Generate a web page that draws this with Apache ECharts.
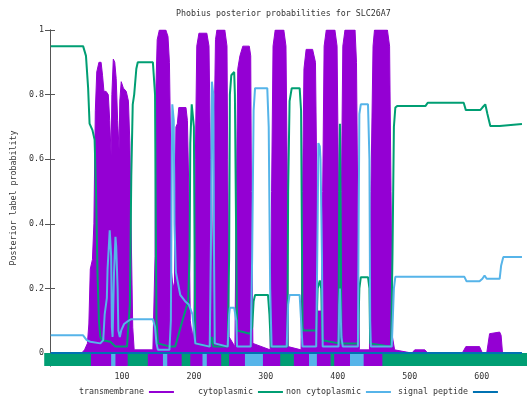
<!DOCTYPE html>
<html>
<head>
<meta charset="utf-8">
<script src="https://cdn.jsdelivr.net/npm/echarts@6/dist/echarts.min.js"></script>
<style>
  html, body { margin: 0; padding: 0; background: #ffffff; }
  #chart { width: 527px; height: 399px; }
</style>
</head>
<body>
<div id="chart"></div>
<script>
// Phobius posterior label probabilities along the SLC26A7 sequence (residue, probability)
const xTicks = [100, 200, 300, 400, 500, 600];
const yTicks = [0, 0.2, 0.4, 0.6, 0.8, 1];

const tmPos  = [1, 44, 48, 52, 54, 56, 59, 61, 63, 65, 68, 71, 73, 75, 78, 81, 83, 85, 86, 88, 90, 92, 94, 96, 97, 99, 102, 106, 109, 111, 113, 115, 117,
                143, 146, 147, 149, 152, 161, 164, 166, 168, 169, 171, 173, 174, 175, 177, 179, 189, 191, 193, 195, 198,
                200, 202, 204, 207, 218, 221, 223, 225, 226, 227, 230, 232, 243, 246, 247, 249, 257, 259, 261, 264, 268, 277, 279, 280, 282,
                306, 308, 310, 313, 325, 328, 330, 331, 349, 351, 353, 356, 365, 369, 371, 372, 377, 379, 381, 384, 396, 399,
                401, 402, 403, 405, 407, 410, 424, 426, 428, 430, 444, 446, 449, 451, 469, 472, 474, 476, 479,
                503, 507, 521, 525, 573, 578, 597, 601, 607, 611, 625, 627, 629, 656];
const tmProb = [0, 0, 0.01, 0.03, 0.09, 0.26, 0.29, 0.40, 0.75, 0.87, 0.90, 0.90, 0.86, 0.81, 0.81, 0.80, 0.72, 0.61, 0.80, 0.91, 0.90, 0.85, 0.72, 0.63, 0.78, 0.84, 0.82, 0.81, 0.78, 0.65, 0.35, 0.08, 0.01,
                0.01, 0.30, 0.80, 0.97, 1.0, 1.0, 0.98, 0.90, 0.60, 0.25, 0.20, 0.22, 0.50, 0.70, 0.71, 0.76, 0.76, 0.72, 0.50, 0.10, 0.05,
                0.10, 0.60, 0.95, 0.99, 0.99, 0.95, 0.60, 0.12, 0.12, 0.50, 0.97, 1.0, 1.0, 0.95, 0.60, 0.05, 0.02, 0.50, 0.88, 0.92, 0.95, 0.95, 0.92, 0.50, 0.03,
                0.01, 0.50, 0.95, 1.0, 1.0, 0.95, 0.50, 0.02, 0.01, 0.50, 0.88, 0.94, 0.94, 0.90, 0.50, 0.13, 0.13, 0.50, 0.95, 1.0, 1.0, 0.95,
                0.50, 0.08, 0.08, 0.50, 0.95, 1.0, 1.0, 0.90, 0.40, 0.01, 0.01, 0.50, 0.95, 1.0, 1.0, 0.95, 0.50, 0.05, 0.01,
                0, 0.01, 0.01, 0, 0, 0.02, 0.02, 0, 0, 0.06, 0.065, 0.055, 0, 0];

const cytoPos  = [1, 46, 50, 53, 55, 59, 62, 64, 66, 68, 70, 73, 84, 91, 107, 111, 113, 115, 117, 120, 122, 143, 146, 147, 148, 150,
                  167, 174, 184, 192, 194, 195, 197, 198, 200, 201, 202, 222, 225, 227, 247, 249, 250, 252, 256, 257, 259, 260,
                  278, 281, 283, 285, 303, 305, 307, 330, 331, 333, 336, 347, 349, 350, 351, 352, 370, 372, 375, 377, 379,
                  401, 402, 403, 404, 405, 428, 430, 432, 442, 444, 445, 474, 476, 478, 480, 483,
                  522, 525, 575, 578, 598, 601, 605, 608, 612, 625, 627, 656];
const cytoProb = [0.95, 0.95, 0.92, 0.82, 0.71, 0.69, 0.66, 0.50, 0.25, 0.10, 0.05, 0.04, 0.035, 0.02, 0.02, 0.15, 0.55, 0.77, 0.80, 0.88, 0.90, 0.90, 0.80, 0.40, 0.10, 0.03,
                  0.02, 0.02, 0.10, 0.16, 0.30, 0.65, 0.77, 0.77, 0.70, 0.30, 0.03, 0.02, 0.05, 0.02, 0.02, 0.30, 0.80, 0.86, 0.87, 0.80, 0.30, 0.07,
                  0.06, 0.08, 0.16, 0.18, 0.18, 0.12, 0.02, 0.02, 0.50, 0.78, 0.82, 0.82, 0.75, 0.40, 0.08, 0.07, 0.07, 0.20, 0.225, 0.20, 0.04,
                  0.03, 0.50, 0.71, 0.45, 0.03, 0.03, 0.20, 0.235, 0.235, 0.20, 0.03, 0.02, 0.30, 0.70, 0.76, 0.765,
                  0.765, 0.775, 0.775, 0.752, 0.752, 0.76, 0.77, 0.74, 0.703, 0.703, 0.709, 0.709];

const noncytoPos  = [1, 46, 51, 56, 70, 74, 76, 79, 80, 82, 83, 85, 86, 87, 89, 91, 92, 94, 95, 97, 99, 103, 109, 113, 143, 146, 148, 150,
                     166, 168, 169, 170, 172, 173, 175, 181, 188, 193, 198, 202, 222, 224, 225, 227, 228, 229, 247, 249, 250, 256, 259, 260,
                     279, 281, 283, 285, 302, 304, 306, 308, 329, 331, 333, 347, 349, 351, 370, 372, 373, 375, 376, 378, 379,
                     401, 402, 403, 405, 407, 428, 429, 430, 432, 442, 444, 445, 446, 475, 478, 480,
                     576, 579, 597, 601, 604, 607, 625, 627, 630, 656];
const noncytoProb = [0.055, 0.055, 0.04, 0.035, 0.03, 0.04, 0.12, 0.17, 0.26, 0.34, 0.38, 0.30, 0.08, 0.05, 0.25, 0.36, 0.33, 0.20, 0.07, 0.05, 0.07, 0.09, 0.10, 0.105, 0.105, 0.08, 0.03, 0.01,
                     0.01, 0.10, 0.50, 0.77, 0.72, 0.40, 0.25, 0.18, 0.16, 0.15, 0.12, 0.03, 0.02, 0.40, 0.84, 0.80, 0.30, 0.03, 0.02, 0.12, 0.14, 0.14, 0.10, 0.02,
                     0.02, 0.30, 0.75, 0.82, 0.82, 0.70, 0.20, 0.02, 0.02, 0.15, 0.18, 0.18, 0.10, 0.02, 0.02, 0.40, 0.65, 0.64, 0.60, 0.30, 0.02,
                     0.02, 0.15, 0.20, 0.05, 0.02, 0.02, 0.40, 0.74, 0.77, 0.77, 0.60, 0.10, 0.02, 0.02, 0.20, 0.236,
                     0.236, 0.222, 0.222, 0.23, 0.24, 0.23, 0.23, 0.27, 0.297, 0.297];

const signalPos  = [1, 656];
const signalProb = [0, 0];

// Predicted topology: segment boundaries (residues) and label of each segment
const segStart = [1, 66, 94, 100, 117, 145, 166, 172, 192, 204, 221, 227, 247, 258, 280, 305, 329, 348, 369, 380, 399, 404, 426, 445, 471];
const segEnd   = [66, 94, 100, 117, 145, 166, 172, 192, 204, 221, 227, 247, 258, 280, 305, 329, 348, 369, 380, 399, 404, 426, 445, 471, 656];
const segLabel = ['cytoplasmic', 'transmembrane', 'non cytoplasmic', 'transmembrane', 'cytoplasmic', 'transmembrane', 'non cytoplasmic',
                  'transmembrane', 'cytoplasmic', 'transmembrane', 'non cytoplasmic', 'transmembrane', 'cytoplasmic', 'transmembrane',
                  'non cytoplasmic', 'transmembrane', 'cytoplasmic', 'transmembrane', 'non cytoplasmic', 'transmembrane', 'cytoplasmic',
                  'transmembrane', 'non cytoplasmic', 'transmembrane', 'cytoplasmic'];
const stripLevel = -0.02;

const COLORS = {
  'transmembrane': '#9400d3',
  'cytoplasmic': '#009e73',
  'non cytoplasmic': '#56b4e9',
  'signal peptide': '#0072b2'
};
const FONT = 'DejaVu Sans Mono';
const FS = 8.3;
const TXT = '#333333';
const AXC = '#555555';

const pairs = (pos, val) => pos.map((p, i) => [p, val[i]]);

const stripData = segStart.map((s, i) => ({
  coords: [[s, stripLevel], [segEnd[i], stripLevel]],
  lineStyle: { color: COLORS[segLabel[i]] }
}));

const chart = echarts.init(document.getElementById('chart'), null, { renderer: 'canvas' });

const legendAt = (name, left) => ({
  data: [name], left: left, top: 388, padding: 0, align: 'right',
  icon: 'rect', itemWidth: 25, itemHeight: 2,
  textStyle: { fontFamily: FONT, fontSize: FS, color: TXT },
  selectedMode: false
});

chart.setOption({
  animation: false,
  backgroundColor: '#ffffff',
  title: {
    text: 'Phobius posterior probabilities for SLC26A7',
    left: 176, top: 10, padding: 0,
    textStyle: { fontFamily: FONT, fontSize: FS, fontWeight: 'normal', color: TXT }
  },
  legend: [
    legendAt('transmembrane', 79),
    legendAt('cytoplasmic', 198),
    legendAt('non cytoplasmic', 286),
    legendAt('signal peptide', 398)
  ],
  grid: { left: 50, right: -1, top: 30, bottom: 33 },
  xAxis: [
    {
      type: 'value', position: 'bottom', min: 0, max: 663,
      axisLine: { show: true, lineStyle: { color: AXC, width: 1 } },
      axisTick: { show: false },
      axisLabel: { customValues: xTicks, margin: 7, fontFamily: FONT, fontSize: FS, color: TXT },
      splitLine: { show: false }
    },
    {
      type: 'value', position: 'top', min: 0, max: 663,
      axisLine: { show: true, lineStyle: { color: AXC, width: 1 } },
      axisTick: { show: true, inside: true, length: 5, customValues: xTicks, lineStyle: { color: AXC } },
      axisLabel: { show: false },
      splitLine: { show: false }
    }
  ],
  yAxis: [
    {
      type: 'value', position: 'left', min: -0.04, max: 1,
      name: 'Posterior label probability', nameLocation: 'middle', nameGap: 29, nameRotate: 90,
      nameTextStyle: { fontFamily: FONT, fontSize: FS, color: TXT },
      axisLine: { show: true, lineStyle: { color: AXC, width: 1 } },
      axisTick: { show: true, inside: true, length: 5, customValues: yTicks, lineStyle: { color: AXC } },
      axisLabel: { customValues: yTicks, margin: 6, fontFamily: FONT, fontSize: FS, color: TXT,
                   formatter: v => String(v) },
      splitLine: { show: false }
    },
    {
      type: 'value', position: 'right', min: -0.04, max: 1,
      axisLine: { show: true, lineStyle: { color: AXC, width: 1 } },
      axisTick: { show: true, inside: true, length: 5, customValues: yTicks, lineStyle: { color: AXC } },
      axisLabel: { show: false },
      splitLine: { show: false }
    }
  ],
  series: [
    {
      name: 'transmembrane', type: 'line', xAxisIndex: 0, yAxisIndex: 0,
      data: pairs(tmPos, tmProb), symbol: 'none', z: 1,
      lineStyle: { color: COLORS['transmembrane'], width: 1 },
      itemStyle: { color: COLORS['transmembrane'] },
      areaStyle: { color: COLORS['transmembrane'], opacity: 1, origin: 'auto' }
    },
    {
      name: 'topology', type: 'lines', coordinateSystem: 'cartesian2d', xAxisIndex: 0, yAxisIndex: 0,
      data: stripData, clip: false, z: 2, silent: true,
      lineStyle: { width: 13, cap: 'square', opacity: 1 }
    },
    {
      name: 'cytoplasmic', type: 'line', data: pairs(cytoPos, cytoProb), symbol: 'none', z: 3,
      lineStyle: { color: COLORS['cytoplasmic'], width: 2 },
      itemStyle: { color: COLORS['cytoplasmic'] }
    },
    {
      name: 'non cytoplasmic', type: 'line', data: pairs(noncytoPos, noncytoProb), symbol: 'none', z: 4,
      lineStyle: { color: COLORS['non cytoplasmic'], width: 2 },
      itemStyle: { color: COLORS['non cytoplasmic'] }
    },
    {
      name: 'signal peptide', type: 'line', data: pairs(signalPos, signalProb), symbol: 'none', z: 5,
      lineStyle: { color: COLORS['signal peptide'], width: 2 },
      itemStyle: { color: COLORS['signal peptide'] }
    }
  ]
});
</script>
</body>
</html>
